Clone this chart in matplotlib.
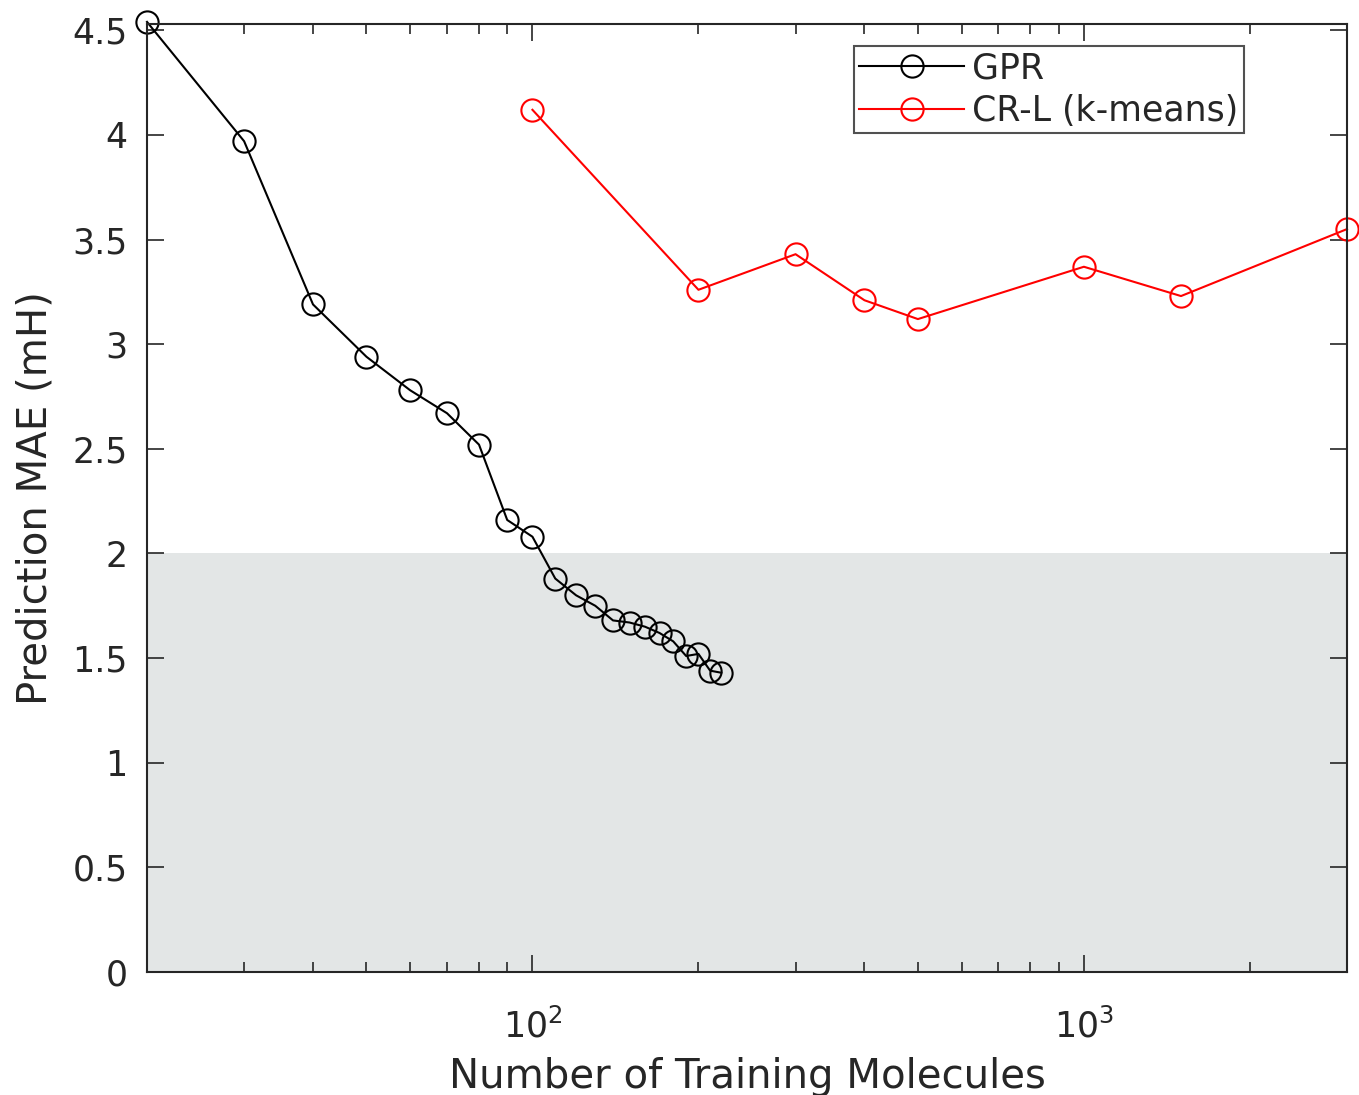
import numpy as np
import matplotlib.pyplot as plt
from matplotlib.ticker import LogLocator, NullFormatter, FixedLocator

# GPR learning curve
gpr_n = [20, 30, 40, 50, 60, 70, 80, 90, 100, 110, 120, 130, 140, 150,
         160, 170, 180, 190, 200, 210, 220]
gpr_mae = [4.54, 3.97, 3.19, 2.94, 2.78, 2.67, 2.52, 2.16, 2.08, 1.88, 1.80,
           1.75, 1.68, 1.67, 1.65, 1.62, 1.58, 1.51, 1.52, 1.44, 1.43]

# CR-L (k-means) learning curve
crl_n = [100, 200, 300, 400, 500, 1000, 1500, 3000]
crl_mae = [4.12, 3.26, 3.43, 3.21, 3.12, 3.37, 3.23, 3.55]

# chemical accuracy band
band = (0.0, 2.0)

x_lim = (20, 3000)
y_ticks = [0, 0.5, 1, 1.5, 2, 2.5, 3, 3.5, 4, 4.5]
y_labels = ["0", "0.5", "1", "1.5", "2", "2.5", "3", "3.5", "4", "4.5"]

plt.rcParams["font.family"] = ["DejaVu Sans"]
txt = "#262626"

fig = plt.figure(figsize=(13.59, 10.95), dpi=100)
ax = fig.add_axes([147 / 1359, 1 - 972 / 1095, 1200 / 1359, 948 / 1095])

ax.axhspan(band[0], band[1], color="#e3e6e6", lw=0, zorder=0)

ax.plot(gpr_n, gpr_mae, "-o", color="black", mfc="none", ms=16, mew=1.5,
        lw=1.5, label="GPR", clip_on=False, zorder=3)
ax.plot(crl_n, crl_mae, "-o", color="red", mfc="none", ms=16, mew=1.5,
        lw=1.5, label="CR-L (k-means)", clip_on=False, zorder=3)

ax.set_xscale("log")
ax.set_xlim(*x_lim)
ax.set_ylim(0, gpr_mae[0] - 0.01)
ax.set_yticks(y_ticks)
ax.set_yticklabels(y_labels)
ax.xaxis.set_major_locator(FixedLocator([100, 1000]))
ax.xaxis.set_minor_locator(LogLocator(base=10, subs=np.arange(2, 10)))
ax.xaxis.set_minor_formatter(NullFormatter())

ax.tick_params(which="both", direction="in", top=True, right=True,
               colors=txt, labelsize=25, width=1.2)
ax.tick_params(which="major", length=12)
ax.tick_params(which="minor", length=7)
ax.tick_params(axis="y", which="major", pad=14)
ax.tick_params(axis="x", which="major", pad=26)
for s in ax.spines.values():
    s.set_color(txt)
    s.set_linewidth(1.5)
    s.set_zorder(4)

ax.set_xlabel("Number of Training Molecules", fontsize=29, color=txt, labelpad=9)
ax.set_ylabel("Prediction MAE (mH)", fontsize=29, color=txt, labelpad=12)

leg = ax.legend(loc="upper right", bbox_to_anchor=(0.914, 0.977), fontsize=25,
                frameon=True, fancybox=False, edgecolor=txt, handlelength=3.0,
                borderaxespad=0, borderpad=0.15, labelspacing=0.25,
                handletextpad=0.25)
leg.get_frame().set_linewidth(1.5)
for t in leg.get_texts():
    t.set_color(txt)

fig.savefig("out.png", dpi=100)
